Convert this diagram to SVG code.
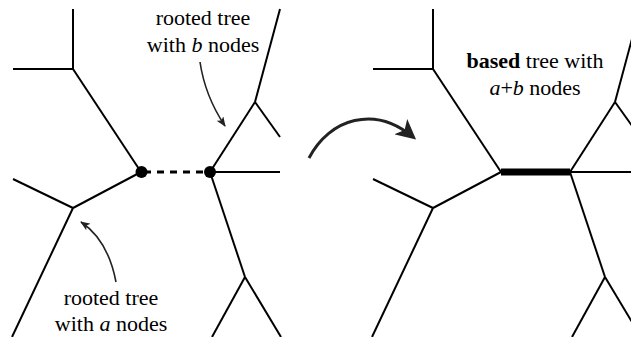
<svg xmlns="http://www.w3.org/2000/svg" width="631" height="337" viewBox="0 0 631 337">
<style>
.e{stroke:#000;stroke-width:2;fill:none;stroke-linecap:butt}
.t{font-family:"Liberation Serif","Times New Roman",Times,serif;font-size:22px;fill:#000;text-anchor:middle}
.ptr{stroke:#222;stroke-width:1.6;fill:none}
</style>
<defs>
<marker id="ah" viewBox="0 0 10 8" refX="9" refY="4" markerWidth="10" markerHeight="8" markerUnits="userSpaceOnUse" orient="auto">
<path d="M0,0 L10,4 L0,8 L2.5,4 Z" fill="#222"/>
</marker>
<marker id="bigah" viewBox="0 0 20 20" refX="16" refY="10" markerWidth="20" markerHeight="20" markerUnits="userSpaceOnUse" orient="auto">
<path d="M0,0 L20,10 L0,20 L5,10 Z" fill="#222"/>
</marker>
</defs>
<g id="connectors">
<g id="tree-a-edges">
<line class="e" x1="73" y1="9" x2="73" y2="69"/>
<line class="e" x1="13" y1="69" x2="73" y2="69"/>
<line class="e" x1="73" y1="69" x2="141" y2="172"/>
<line class="e" x1="141" y1="172" x2="73" y2="208"/>
<line class="e" x1="13" y1="179" x2="73" y2="208"/>
<line class="e" x1="73" y1="208" x2="12" y2="337"/>
</g>
<g id="tree-b-edges">
<line class="e" x1="210" y1="172" x2="255" y2="102"/>
<line class="e" x1="255" y1="102" x2="280" y2="9"/>
<line class="e" x1="255" y1="102" x2="280" y2="137"/>
<line class="e" x1="210" y1="172" x2="280" y2="172"/>
<line class="e" x1="210" y1="172" x2="245" y2="277"/>
<line class="e" x1="245" y1="277" x2="212" y2="337"/>
<line class="e" x1="245" y1="277" x2="281" y2="337"/>
</g>
<line id="dashed-link" x1="141" y1="172" x2="210" y2="172" stroke="#000" stroke-width="3" stroke-dasharray="7,6" stroke-dashoffset="-3"/>
<g id="based-tree-edges">
<line class="e" x1="433" y1="9" x2="433" y2="69"/>
<line class="e" x1="373" y1="69" x2="433" y2="69"/>
<line class="e" x1="433" y1="69" x2="501" y2="172"/>
<line class="e" x1="501" y1="172" x2="433" y2="208"/>
<line class="e" x1="373" y1="179" x2="433" y2="208"/>
<line class="e" x1="433" y1="208" x2="372" y2="337"/>
<line class="e" x1="570" y1="172" x2="615" y2="102"/>
<line class="e" x1="615" y1="102" x2="640" y2="9"/>
<line class="e" x1="615" y1="102" x2="640" y2="137"/>
<line class="e" x1="570" y1="172" x2="640" y2="172"/>
<line class="e" x1="570" y1="172" x2="605" y2="277"/>
<line class="e" x1="605" y1="277" x2="572" y2="337"/>
<line class="e" x1="605" y1="277" x2="641" y2="337"/>
<line id="base-edge" x1="501" y1="172" x2="570" y2="172" stroke="#000" stroke-width="7"/>
</g>
<path class="ptr" d="M200,62 Q205,96 225,126" marker-end="url(#ah)"/>
<path class="ptr" d="M116,282 Q108,240 81,222" marker-end="url(#ah)"/>
<path d="M309,158 C330,118 375,105 413,137" stroke="#222" stroke-width="3" fill="none" marker-end="url(#bigah)"/>
</g>
<g id="node-root-a"><circle cx="141.5" cy="172" r="6" fill="#000"/></g>
<g id="node-root-b"><circle cx="210" cy="172" r="6" fill="#000"/></g>
<g id="label-b">
<text class="t" x="203" y="25">rooted tree</text>
<text class="t" x="203" y="52">with <tspan font-style="italic">b</tspan> nodes</text>
</g>
<g id="label-a">
<text class="t" x="111" y="305">rooted tree</text>
<text class="t" x="111" y="331">with <tspan font-style="italic">a</tspan> nodes</text>
</g>
<g id="label-based">
<text class="t" x="535" y="67.5"><tspan font-weight="bold">based</tspan> tree with</text>
<text class="t" x="535" y="95"><tspan font-style="italic">a</tspan>+<tspan font-style="italic">b</tspan> nodes</text>
</g>
</svg>
